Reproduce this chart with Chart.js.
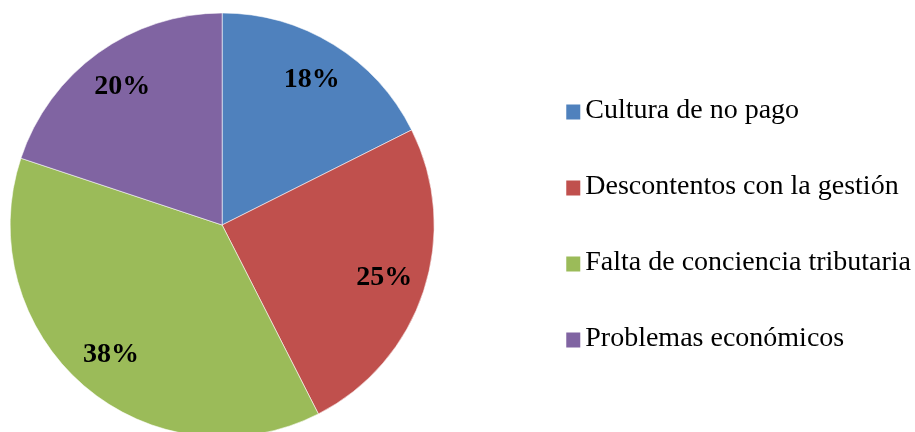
<!DOCTYPE html>
<html>
<head>
<meta charset="utf-8">
<script src="https://cdn.jsdelivr.net/npm/chart.js@4"></script>
<style>
  html,body{margin:0;padding:0;background:#fff;overflow:hidden;width:915px;height:432px;}
  #wrap{position:absolute;left:-65px;top:0;width:986px;height:450px;}
</style>
</head>
<body>
<div id="wrap"><canvas id="pie" width="986" height="450"></canvas></div>
<script>
const categories=['Cultura de no pago','Descontentos con la gestión','Falta de conciencia tributaria','Problemas económicos'];
const values=[17.6,24.9,37.6,19.9];
const colors=['#4F81BD','#C0504D','#9BBB59','#8064A2'];

// percent labels inside each slice
const sliceLabels={
  id:'sliceLabels',
  afterDatasetsDraw(chart){
    const ctx=chart.ctx;
    const meta=chart.getDatasetMeta(0);
    const data=chart.data.datasets[0].data;
    const total=data.reduce((s,v)=>s+v,0);
    ctx.save();
    ctx.font='bold 28px "Liberation Serif", "Times New Roman", serif';
    ctx.fillStyle='#000';
    ctx.textAlign='center';
    ctx.textBaseline='middle';
    meta.data.forEach((arc,i)=>{
      const p=arc.getProps(['x','y','startAngle','endAngle','outerRadius'],true);
      const mid=(p.startAngle+p.endAngle)/2;
      const r=p.outerRadius*0.805;
      ctx.fillText(Math.round(data[i]/total*100)+'%', p.x+Math.cos(mid)*r, p.y+Math.sin(mid)*r);
    });
    ctx.restore();
  }
};

// legend squares sit closer to the text than chart.js puts them
const legendBoxes={
  id:'legendBoxes',
  afterDraw(chart){
    const ctx=chart.ctx;
    const hb=chart.legend.legendHitBoxes;
    ctx.save();
    hb.forEach((b,i)=>{
      ctx.fillStyle=colors[i];
      ctx.fillRect(b.left+9, b.top+(b.height-15)/2+1, 14, 15);
    });
    ctx.restore();
  }
};

new Chart(document.getElementById('pie').getContext('2d'),{
  type:'pie',
  data:{
    labels:categories,
    datasets:[{
      data:values,
      backgroundColor:colors,
      borderColor:'rgba(255,255,255,0.55)',
      borderWidth:1,
      radius:212
    }]
  },
  options:{
    responsive:false,
    animation:false,
    layout:{padding:0},
    plugins:{
      legend:{
        position:'right',
        labels:{
          boxWidth:14,
          boxHeight:14,
          padding:48,
          color:'#000',
          font:{family:'"Liberation Serif", "Times New Roman", serif',size:28},
          generateLabels(chart){
            const items=Chart.overrides.pie.plugins.legend.labels.generateLabels(chart);
            items.forEach(it=>{ it.fillStyle='rgba(0,0,0,0)'; it.strokeStyle='rgba(0,0,0,0)'; it.lineWidth=0; });
            return items;
          }
        }
      },
      tooltip:{enabled:false}
    }
  },
  plugins:[sliceLabels,legendBoxes]
});
</script>
</body>
</html>
